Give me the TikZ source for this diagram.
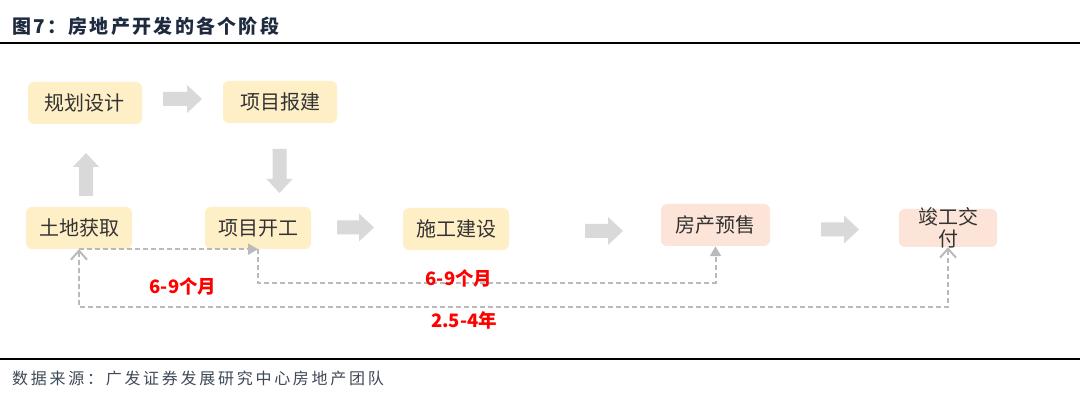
\documentclass[tikz,border=0pt]{standalone}
\usepackage{fontspec}
\setmainfont{Noto Sans CJK SC}
\usetikzlibrary{arrows.meta}
\definecolor{boxy}{HTML}{FFEFC6}
\definecolor{boxp}{HTML}{FCE5D8}
\definecolor{arrg}{HTML}{D9D9D9}
\definecolor{dashg}{HTML}{BABABA}
\definecolor{txtc}{HTML}{333333}
\definecolor{titlec}{HTML}{1E2B3F}
\definecolor{redc}{HTML}{FF0000}
\definecolor{footc}{HTML}{3F4A57}
% block arrows: x0, x1, yc (right) / xc, y0 (tail), y1 (tip), direction (vertical)
\newcommand\blkRight[3]{\fill[arrg] (#1,#3-7) -- (#2-15,#3-7) -- (#2-15,#3-14) -- (#2,#3) -- (#2-15,#3+14) -- (#2-15,#3+7) -- (#1,#3+7) -- cycle;}
\newcommand\blkVert[4]{\fill[arrg] (#1-7,#2) -- (#1-7,#3+#4*14) -- (#1-13,#3+#4*14) -- (#1,#3) -- (#1+13,#3+#4*14) -- (#1+7,#3+#4*14) -- (#1+7,#2) -- cycle;}
\begin{document}
\begin{tikzpicture}[x=1pt,y=-1pt,
 stagebox/.style={rounded corners=6pt, inner sep=0pt, text=txtc, font=\fontsize{20}{22}\selectfont, minimum height=42pt},
 elbow/.style={draw=dashg, line width=2pt, dash pattern=on 5pt off 3pt},
 dur/.style={text=redc, font=\fontsize{18.5}{20}\selectfont\bfseries, inner sep=0pt}]
\useasboundingbox[fill=white] (0,0) rectangle (1080,403);

% title and rules
\node[anchor=west, inner sep=0pt, text=titlec, font=\fontsize{19}{22}\selectfont\bfseries\addfontfeature{LetterSpace=12}] (title) at (12,26) {图7：房地产开发的各个阶段};
\draw[line width=2pt] (0,43.5) -- (1080,43.5);
\draw[line width=2pt] (0,359) -- (1080,359);
\node[anchor=west, inner sep=0pt, text=footc, font=\fontsize{16}{18}\selectfont\addfontfeature{LetterSpace=17}] (src) at (12,378) {数据来源：广发证券发展研究中心房地产团队};

% stages
\node[stagebox, fill=boxy, minimum width=114pt] (A) at (85,103) {规划设计};
\node[stagebox, fill=boxy, minimum width=114pt] (B) at (280,102) {项目报建};
\node[stagebox, fill=boxy, minimum width=106pt] (C) at (79,228) {土地获取};
\node[stagebox, fill=boxy, minimum width=106pt] (D) at (258,228) {项目开工};
\node[stagebox, fill=boxy, minimum width=106pt] (E) at (456,229) {施工建设};
\node[stagebox, fill=boxp, minimum width=109pt] (F) at (715.5,225) {房产预售};
\node[stagebox, fill=boxp, minimum width=98pt, minimum height=38pt] (G) at (948,228) {};
\node[inner sep=0pt, text=txtc, align=center, font=\fontsize{20}{22}\selectfont] (Gt) at (G.center) {竣工交\\付};

% block arrows
\blkRight{163}{202}{99}
\blkVert{86}{196}{153}{1}
\blkVert{279.5}{149}{193}{-1}
\blkRight{337}{374}{227.5}
\blkRight{585}{623}{231}
\blkRight{821}{859}{229.5}

% dashed elbow connectors
\draw[elbow, -{Triangle[length=10pt,width=11pt]}] (C.south) -- (D.south);
\draw[elbow, -{Triangle[length=10pt,width=11pt]}] (D.south) -- (D.south |- 0,283) -| (F.south);
\draw[elbow, {Straight Barb[length=9pt,width=16pt]}-{Straight Barb[length=9pt,width=16pt]}] (C.south) -- (C.south |- 0,307) -| (G.south);

% durations
\node[dur] (L1) at (183,286) {6-9个月};
\node[dur] (L2) at (459,278) {6-9个月};
\node[dur] (L3) at (464,320) {2.5-4年};
\end{tikzpicture}
\end{document}
